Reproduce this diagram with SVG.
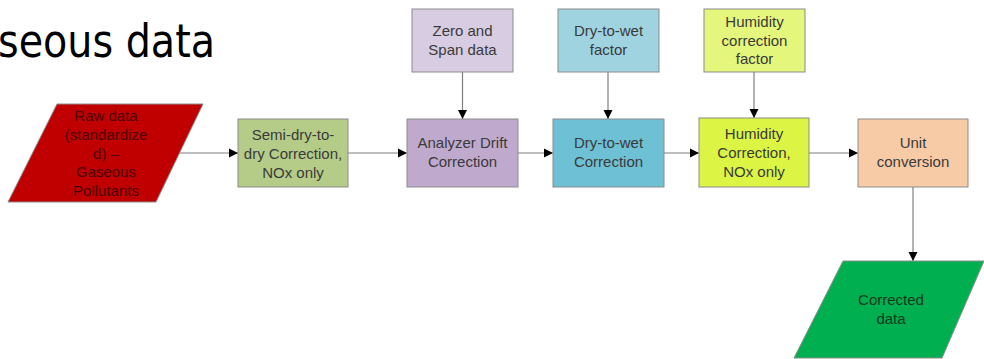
<svg xmlns="http://www.w3.org/2000/svg" width="984" height="359" viewBox="0 0 984 359">
<style>
.box{stroke:#8c8c8c;stroke-width:1}
.t{font-family:"Liberation Sans",Arial,sans-serif;font-size:15px;fill:#3a3a3a;text-anchor:middle}
.ln{stroke:#7f7f7f;stroke-width:1.2;fill:none;marker-end:url(#ah)}
</style>
<defs>
<marker id="ah" markerWidth="10" markerHeight="10" refX="9" refY="5" orient="auto" markerUnits="userSpaceOnUse">
<path d="M0,0.5 L9,5 L0,9.5 Z" fill="#000"/>
</marker>
</defs>
<rect width="984" height="359" fill="#fff"/>
<text x="-2" y="57" font-family="'DejaVu Sans Condensed','DejaVu Sans',sans-serif" font-size="46" fill="#000" textLength="217" lengthAdjust="spacingAndGlyphs">seous data</text>

<g id="connectors">
<line class="ln" x1="180" y1="153" x2="238" y2="153"/>
<line class="ln" x1="348" y1="153" x2="407" y2="153"/>
<line class="ln" x1="518" y1="153" x2="553" y2="153"/>
<line class="ln" x1="664" y1="153" x2="699" y2="153"/>
<line class="ln" x1="809" y1="153" x2="858" y2="153"/>
<line class="ln" x1="462.5" y1="72" x2="462.5" y2="119"/>
<line class="ln" x1="608" y1="72" x2="608" y2="119"/>
<line class="ln" x1="754" y1="72" x2="754" y2="118"/>
<line class="ln" x1="913" y1="187" x2="913" y2="261"/>
</g>

<g id="raw">
<polygon class="box" points="57,104 203,104 156,202 8,202" fill="#c00000"/>
<text class="t" style="fill:#4a0000" x="106"><tspan x="106" y="121">Raw data</tspan><tspan x="106" y="140">(standardize</tspan><tspan x="106" y="159">d) –</tspan><tspan x="106" y="177">Gaseous</tspan><tspan x="106" y="196">Pollutants</tspan></text>
</g>

<g id="semidry">
<rect class="box" x="238" y="119" width="110" height="68" fill="#b5cc88"/>
<text class="t"><tspan x="293" y="140">Semi-dry-to-</tspan><tspan x="293" y="159">dry Correction,</tspan><tspan x="293" y="178">NOx only</tspan></text>
</g>

<g id="zerospan">
<rect class="box" x="412" y="9" width="101" height="63" fill="#d7cce1"/>
<text class="t"><tspan x="462.5" y="36">Zero and</tspan><tspan x="462.5" y="55">Span data</tspan></text>
</g>

<g id="drift">
<rect class="box" x="407" y="119" width="111" height="68" fill="#bfa9cd"/>
<text class="t"><tspan x="462.5" y="148">Analyzer Drift</tspan><tspan x="462.5" y="167">Correction</tspan></text>
</g>

<g id="dwfactor">
<rect class="box" x="558" y="9" width="101" height="63" fill="#9fd3e0"/>
<text class="t"><tspan x="608.5" y="36">Dry-to-wet</tspan><tspan x="608.5" y="55">factor</tspan></text>
</g>

<g id="dwcorr">
<rect class="box" x="553" y="119" width="111" height="68" fill="#6ec0d4"/>
<text class="t"><tspan x="608.5" y="148">Dry-to-wet</tspan><tspan x="608.5" y="167">Correction</tspan></text>
</g>

<g id="humfactor">
<rect class="box" x="704" y="9" width="101" height="63" fill="#e4f67b"/>
<text class="t"><tspan x="754.5" y="27">Humidity</tspan><tspan x="754.5" y="45.5">correction</tspan><tspan x="754.5" y="64">factor</tspan></text>
</g>

<g id="humcorr">
<rect class="box" x="699" y="118" width="110" height="69" fill="#dcf443"/>
<text class="t"><tspan x="754" y="139">Humidity</tspan><tspan x="754" y="158">Correction,</tspan><tspan x="754" y="177">NOx only</tspan></text>
</g>

<g id="unit">
<rect class="box" x="858" y="119" width="110" height="68" fill="#f8cba7"/>
<text class="t"><tspan x="913" y="148">Unit</tspan><tspan x="913" y="167">conversion</tspan></text>
</g>

<g id="corrected">
<polygon class="box" points="843,261 984,261 942,358 794,358" fill="#00b050"/>
<text class="t" style="fill:#0f3a1c"><tspan x="891" y="305">Corrected</tspan><tspan x="891" y="324">data</tspan></text>
</g>
</svg>
